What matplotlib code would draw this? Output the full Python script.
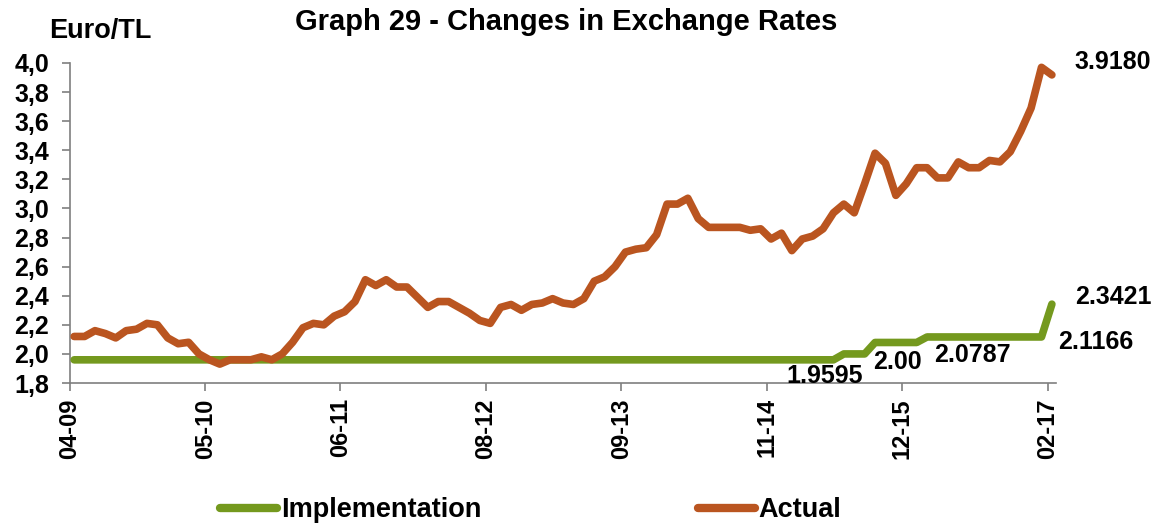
import matplotlib
matplotlib.use("Agg")
import matplotlib.pyplot as plt
from matplotlib.lines import Line2D

plt.rcParams['font.family'] = ['Liberation Sans', 'DejaVu Sans']
plt.rcParams['font.weight'] = 'bold'

# monthly data, 04-2009 .. 02-2017
tick_labels = ['04-09', '05-10', '06-11', '08-12', '09-13', '11-14', '12-15', '02-17']
tick_index = [0, 13, 26, 40, 53, 67, 80, 94]

actual = [2.12, 2.12, 2.16, 2.14, 2.11, 2.16, 2.17, 2.21, 2.20, 2.11,
          2.07, 2.08, 2.00, 1.96, 1.93, 1.96, 1.96, 1.96, 1.98, 1.96,
          2.00, 2.08, 2.18, 2.21, 2.20, 2.26, 2.29, 2.36, 2.51, 2.47,
          2.51, 2.46, 2.46, 2.39, 2.32, 2.36, 2.36, 2.32, 2.28, 2.23,
          2.21, 2.32, 2.34, 2.30, 2.34, 2.35, 2.38, 2.35, 2.34, 2.38,
          2.50, 2.53, 2.60, 2.70, 2.72, 2.73, 2.82, 3.03, 3.03, 3.07,
          2.93, 2.87, 2.87, 2.87, 2.87, 2.85, 2.86, 2.79, 2.83, 2.71,
          2.79, 2.81, 2.86, 2.97, 3.03, 2.97, 3.17, 3.38, 3.31, 3.09,
          3.17, 3.28, 3.28, 3.21, 3.21, 3.32, 3.28, 3.28, 3.33, 3.32,
          3.39, 3.53, 3.69, 3.97, 3.918]

implementation = [1.9595] * 74 + [2.00] * 3 + [2.0787] * 5 + [2.1166] * 12 + [2.3421]

value_labels = ['3.9180', '2.3421', '2.1166', '2.0787', '2.00', '1.9595']
value_label_pos = [(96.2, 4.006), (96.2, 2.391), (94.6, 2.082), (82.7, 1.992), (76.8, 1.944), (68.5, 1.848)]

green = '#74991E'
orange = '#BA5520'

fig = plt.figure(figsize=(11.61, 5.27), dpi=100)
ax = fig.add_axes([0.0603, 0.2732, 0.8493, 0.6073])

x = list(range(len(actual)))
ax.plot(x, implementation, color=green, lw=5.5, solid_capstyle='round', solid_joinstyle='round', zorder=3)
ax.plot(x, actual, color=orange, lw=5.5, solid_capstyle='round', solid_joinstyle='round', zorder=4)

ax.set_xlim(-0.4, 94.4)
ax.set_ylim(1.8, 4.0)
yt = [1.8 + 0.2 * k for k in range(12)]
ax.set_yticks(yt)
ax.set_yticklabels([f"{v:.1f}".replace('.', ',') for v in yt], fontsize=18, fontweight='bold')
ax.set_xticks([i - 0.4 for i in tick_index])
ax.set_xticklabels(tick_labels, rotation=90, fontsize=17, fontweight='bold')

for s in ['top', 'right']:
    ax.spines[s].set_visible(False)
for s in ['left', 'bottom']:
    ax.spines[s].set_color('#7f7f7f')
    ax.spines[s].set_linewidth(1.2)
ax.tick_params(axis='both', direction='out', length=6, width=1.2, color='#7f7f7f')
ax.tick_params(axis='y', pad=9)
ax.tick_params(axis='x', pad=5)

for txt, (tx, ty) in zip(value_labels, value_label_pos):
    ax.text(tx, ty, txt, fontsize=18, fontweight='bold', ha='left', va='center',
            clip_on=False, zorder=5)

fig.text(0.4875, 1 - 22 / 527, 'Graph 29 - Changes in Exchange Rates',
         ha='center', va='center', fontsize=21, fontweight='bold')
fig.text(49 / 1161, 1 - 31 / 527, 'Euro/TL', ha='left', va='center', fontsize=19.5, fontweight='bold')

handles = [Line2D([], [], color=green, lw=6, solid_capstyle='round'),
           Line2D([], [], color=orange, lw=6, solid_capstyle='round')]
fig.legend(handles, ['Implementation', 'Actual'], loc='center', bbox_to_anchor=(0.457, 0.032),
           ncol=2, frameon=False, handlelength=2.1, handletextpad=0.15, columnspacing=8.0,
           prop={'weight': 'bold', 'size': 19.5})

fig.savefig('out.png', dpi=100)
